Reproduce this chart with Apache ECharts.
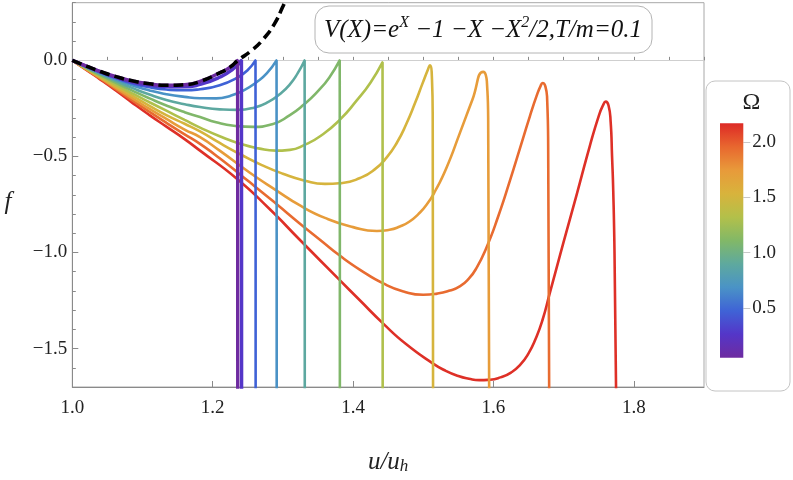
<!DOCTYPE html>
<html><head><meta charset="utf-8">
<script src="https://cdn.jsdelivr.net/npm/echarts@6/dist/echarts.min.js"></script>
<style>html,body{margin:0;padding:0;background:#fff}#c{width:793px;height:480px}</style>
</head><body><div id="c"></div>
<script>
// ---- data ----
const omegas = [0.05, 0.26, 0.47, 0.68, 0.89, 1.10, 1.31, 1.52, 1.73, 1.94, 2.15];
const omegaRange = [0.05, 2.17];
const omegaTicks = [0.5, 1.0, 1.5, 2.0];
const omegaMinorTicks = [0.1,0.2,0.3,0.4,0.5,0.6,0.7,0.8,0.9,1.0,1.1,1.2,1.3,1.4,1.5,1.6,1.7,1.8,1.9,2.0,2.1];
const xTicks = [1.0, 1.2, 1.4, 1.6, 1.8];
const yTicks = [-1.5, -1.0, -0.5, 0.0];

const curve0 = [[1,0],[1.02,-0.03],[1.04,-0.058],[1.06,-0.082],[1.087,-0.108],[1.11,-0.122],[1.134,-0.13],[1.16,-0.127],[1.182,-0.11],[1.21,-0.065],[1.225,-0.035],[1.2355,0.0],[1.2357,-1.8]];
const curve1 = [[1,0],[1.02,-0.031],[1.04,-0.06],[1.06,-0.086],[1.087,-0.114],[1.11,-0.129],[1.134,-0.137],[1.16,-0.138],[1.182,-0.125],[1.21,-0.088],[1.228,-0.048],[1.241,0.0],[1.2412,-1.8]];
const curve2 = [[1,0],[1.02,-0.032],[1.04,-0.062],[1.06,-0.09],[1.087,-0.122],[1.11,-0.14],[1.134,-0.152],[1.16,-0.156],[1.182,-0.15],[1.21,-0.13],[1.235,-0.09],[1.25,-0.05],[1.261,0.0],[1.2612,-1.8]];
const curve3 = [[1,0],[1.02,-0.034],[1.04,-0.066],[1.06,-0.096],[1.087,-0.132],[1.11,-0.157],[1.134,-0.176],[1.16,-0.19],[1.182,-0.197],[1.205,-0.198],[1.225,-0.185],[1.245,-0.155],[1.262,-0.115],[1.277,-0.068],[1.291,0.0],[1.2912,-1.8]];
const curve4 = [[1,0],[1.02,-0.036],[1.04,-0.071],[1.06,-0.104],[1.087,-0.146],[1.11,-0.178],[1.134,-0.206],[1.16,-0.228],[1.182,-0.243],[1.21,-0.255],[1.235,-0.258],[1.26,-0.245],[1.28,-0.215],[1.296,-0.175],[1.31,-0.125],[1.321,-0.068],[1.331,0.0],[1.3312,-1.8]];
const curve5 = [[1,0],[1.02,-0.039],[1.04,-0.077],[1.06,-0.113],[1.087,-0.16],[1.11,-0.198],[1.134,-0.235],[1.16,-0.27],[1.182,-0.295],[1.205,-0.322],[1.23,-0.34],[1.258,-0.346],[1.285,-0.332],[1.31,-0.285],[1.33,-0.23],[1.35,-0.16],[1.366,-0.09],[1.381,0.0],[1.3812,-1.8]];
const curve6 = [[1,0],[1.02,-0.042],[1.04,-0.083],[1.06,-0.123],[1.087,-0.175],[1.11,-0.218],[1.134,-0.262],[1.16,-0.31],[1.182,-0.35],[1.21,-0.395],[1.24,-0.435],[1.265,-0.458],[1.29,-0.47],[1.31,-0.466],[1.331,-0.44],[1.355,-0.39],[1.381,-0.31],[1.405,-0.21],[1.425,-0.115],[1.442,-0.01],[1.4422,-1.8]];
const curve7 = [[1,0],[1.02,-0.044],[1.04,-0.088],[1.06,-0.131],[1.087,-0.188],[1.11,-0.237],[1.134,-0.285],[1.16,-0.33],[1.182,-0.37],[1.21,-0.43],[1.24,-0.49],[1.27,-0.545],[1.3,-0.59],[1.33,-0.625],[1.36,-0.643],[1.385,-0.638],[1.41,-0.612],[1.43,-0.57],[1.448,-0.505],[1.463,-0.425],[1.476,-0.33],[1.488,-0.225],[1.499,-0.12],[1.507,-0.045],[1.5095,-0.026],[1.512,-0.06],[1.5135,-0.3],[1.514,-1.8]];
const curve8 = [[1,0],[1.02,-0.046],[1.04,-0.092],[1.06,-0.138],[1.087,-0.2],[1.11,-0.253],[1.134,-0.305],[1.16,-0.36],[1.182,-0.4],[1.21,-0.47],[1.253,-0.585],[1.29,-0.675],[1.3244,-0.755],[1.36,-0.82],[1.4,-0.868],[1.434,-0.888],[1.452,-0.882],[1.4667,-0.865],[1.48,-0.84],[1.493,-0.8],[1.505,-0.75],[1.517,-0.68],[1.533,-0.56],[1.552,-0.38],[1.57,-0.205],[1.5855,-0.06],[1.589,-0.075],[1.5908,-0.12],[1.5925,-0.3],[1.594,-1.8]];
const curve9 = [[1,0],[1.02,-0.048],[1.04,-0.096],[1.06,-0.145],[1.087,-0.212],[1.11,-0.268],[1.134,-0.325],[1.16,-0.385],[1.182,-0.435],[1.21,-0.51],[1.253,-0.635],[1.29,-0.745],[1.3244,-0.85],[1.355,-0.94],[1.381,-1.016],[1.41,-1.09],[1.443,-1.161],[1.472,-1.203],[1.5,-1.22],[1.52,-1.214],[1.538,-1.198],[1.552,-1.176],[1.564,-1.14],[1.576,-1.08],[1.59,-0.975],[1.607,-0.81],[1.6235,-0.626],[1.638,-0.455],[1.652,-0.29],[1.662,-0.18],[1.667,-0.135],[1.67,-0.118],[1.674,-0.135],[1.6765,-0.2],[1.678,-0.45],[1.6795,-1.8]];
const curve10 = [[1,0],[1.02,-0.05],[1.04,-0.1],[1.06,-0.152],[1.087,-0.225],[1.11,-0.285],[1.134,-0.345],[1.16,-0.41],[1.182,-0.47],[1.234,-0.615],[1.28,-0.77],[1.3244,-0.935],[1.38,-1.14],[1.41,-1.25],[1.443,-1.37],[1.475,-1.475],[1.514,-1.578],[1.532,-1.616],[1.55,-1.643],[1.565,-1.657],[1.58,-1.664],[1.595,-1.662],[1.61,-1.65],[1.625,-1.625],[1.638,-1.585],[1.65,-1.525],[1.66,-1.45],[1.67,-1.35],[1.68,-1.215],[1.69,-1.08],[1.7,-0.945],[1.7185,-0.7],[1.737,-0.45],[1.75,-0.29],[1.756,-0.235],[1.76,-0.215],[1.764,-0.235],[1.767,-0.32],[1.769,-0.5],[1.7707,-0.68],[1.7725,-1.0],[1.775,-1.8]];
const dashedLimit = [[1,0],[1.02,-0.03],[1.04,-0.058],[1.06,-0.082],[1.087,-0.108],[1.11,-0.122],[1.134,-0.13],[1.16,-0.127],[1.182,-0.11],[1.21,-0.065],[1.225,-0.035],[1.236,0.0],[1.255,0.05],[1.272,0.11],[1.288,0.19],[1.3,0.28],[1.31,0.36]];
const curves = [curve0, curve1, curve2, curve3, curve4, curve5, curve6, curve7, curve8, curve9, curve10];

// ---- styling ----
const rainbow = ['#6E2BA0','#5436C8','#3F63D6','#4A93C6','#5EA99E','#82B867','#B3C04A','#D8B33C','#E89A3A','#E8672F','#DD2A26'];
function hex(c){return [parseInt(c.slice(1,3),16),parseInt(c.slice(3,5),16),parseInt(c.slice(5,7),16)];}
function colorAt(t){
  t = Math.max(0, Math.min(1, t));
  const p = t * (rainbow.length - 1), i = Math.min(rainbow.length - 2, Math.floor(p)), f = p - i;
  const a = hex(rainbow[i]), b = hex(rainbow[i+1]);
  return 'rgb(' + a.map((v,k)=>Math.round(v + (b[k]-v)*f)).join(',') + ')';
}
const SERIF = 'Liberation Serif';
const axisGrey = '#8a8a8a';
const minus = v => (v < -1e-9 ? '\u2212' : '') + Math.abs(v).toFixed(1);
const tickText = { fontFamily: SERIF, fontSize: 19, color: '#222' };

const series = [];
for (let i = curves.length - 1; i >= 0; i--) {
  const t = (omegas[i] - omegaRange[0]) / (omegaRange[1] - omegaRange[0]);
  const s = {
    type: 'line', xAxisIndex: 0, yAxisIndex: 0, data: curves[i],
    showSymbol: false, smooth: 0.55, silent: true, z: 3,
    lineStyle: { width: i <= 1 ? 3.4 : 2.6, color: colorAt(t) }
  };
  if (i === curves.length - 1) {
    s.markLine = { silent: true, symbol: 'none', label: { show: false },
      lineStyle: { color: '#cfcfcf', width: 1, type: 'solid' }, data: [{ yAxis: 0 }], z: 1 };
  }
  series.push(s);
}
series.push({
  type: 'line', xAxisIndex: 0, yAxisIndex: 0, data: dashedLimit, showSymbol: false,
  smooth: 0.55, silent: true, z: 5,
  lineStyle: { width: 3.6, color: '#000', type: [10, 5] }
});
series.push({
  type: 'custom', xAxisIndex: 2, yAxisIndex: 2, silent: true,
  data: [[0, omegaRange[0], 1, omegaRange[1]]],
  renderItem: function (params, api) {
    const p0 = api.coord([api.value(0), api.value(1)]);
    const p1 = api.coord([api.value(2), api.value(3)]);
    return { type: 'rect',
      shape: { x: p0[0], y: p1[1], width: p1[0] - p0[0], height: p0[1] - p1[1] },
      style: { fill: new echarts.graphic.LinearGradient(0, 1, 0, 0,
        rainbow.map((c, k) => ({ offset: k / (rainbow.length - 1), color: c }))) } };
  }
});

const chart = echarts.init(document.getElementById('c'), null, { renderer: 'canvas' });
chart.setOption({
  animation: false,
  backgroundColor: '#fff',
  textStyle: { fontFamily: SERIF },
  grid: [
    { left: 72.3, right: 89, top: 2.7, bottom: 86.7, show: true, borderColor: '#a8a8a8', borderWidth: 1 },
    { left: 720, top: 123.3, width: 23.3, height: 234.4 }
  ],
  xAxis: [
    { type: 'value', gridIndex: 0, min: 1.0, max: 1.9, position: 'bottom',
      axisLine: { show: true, onZero: false, lineStyle: { color: axisGrey } },
      axisTick: { inside: true, length: 6, customValues: xTicks, lineStyle: { color: axisGrey } },
      axisLabel: Object.assign({ customValues: xTicks, margin: 12,
        formatter: v => '{t|' + v.toFixed(1) + '}', rich: { t: tickText } }, tickText),
      splitLine: { show: false },
      name: '{i|u/u}{s|h}', nameLocation: 'middle', nameGap: 58,
      nameTextStyle: { fontFamily: SERIF, rich: {
        i: { fontFamily: SERIF, fontStyle: 'italic', fontSize: 25, color: '#222', verticalAlign: 'bottom', lineHeight: 30 },
        s: { fontFamily: SERIF, fontStyle: 'italic', fontSize: 17, color: '#222', verticalAlign: 'bottom', lineHeight: 22 } } } },
    { type: 'value', gridIndex: 0, min: 1.0, max: 1.9, interval: 0.05, position: 'bottom',
      axisLine: { show: false }, axisLabel: { show: false }, splitLine: { show: false },
      axisTick: { inside: true, length: 3.5, lineStyle: { color: axisGrey } } },
    { type: 'value', gridIndex: 1, min: 0, max: 1, show: false }
  ],
  yAxis: [
    { type: 'value', gridIndex: 0, min: -1.7, max: 0.3, position: 'left',
      axisLine: { show: true, onZero: false, lineStyle: { color: axisGrey } },
      axisTick: { inside: true, length: 6, customValues: yTicks, lineStyle: { color: axisGrey } },
      axisLabel: Object.assign({ customValues: yTicks, margin: 5,
        formatter: v => '{t|' + minus(v) + '}', rich: { t: tickText } }, tickText),
      splitLine: { show: false } },
    { type: 'value', gridIndex: 0, min: -1.7, max: 0.3, interval: 0.1, position: 'left',
      axisLine: { show: false }, axisLabel: { show: false }, splitLine: { show: false },
      axisTick: { inside: true, length: 3.5, lineStyle: { color: axisGrey } } },
    { type: 'value', gridIndex: 1, min: omegaRange[0], max: omegaRange[1], position: 'right',
      axisLine: { show: false }, splitLine: { show: false },
      axisTick: { length: 4, customValues: omegaMinorTicks, lineStyle: { color: '#c8c8c8' } },
      axisLabel: { show: false } },
    { type: 'value', gridIndex: 1, min: omegaRange[0], max: omegaRange[1], position: 'right',
      axisLine: { show: false }, splitLine: { show: false },
      axisTick: { length: 7, customValues: omegaTicks, lineStyle: { color: '#c8c8c8' } },
      axisLabel: Object.assign({ customValues: omegaTicks, margin: 9,
        formatter: v => '{t|' + v.toFixed(1) + '}', rich: { t: tickText } }, tickText) }
  ],
  graphic: [
    { type: 'text', z: 10, x: 8, y: 202,
      style: { text: 'f', fontFamily: SERIF, fontStyle: 'italic', fontSize: 25, fill: '#222', align: 'center', verticalAlign: 'middle' } },
    { type: 'rect', z: 0, shape: { x: 706, y: 81, width: 84, height: 310, r: 9 },
      style: { fill: '#fff', stroke: '#c4c4c4', lineWidth: 1 } },
    { type: 'text', z: 10, x: 751.5, y: 103,
      style: { text: '\u03A9', fontFamily: SERIF, fontSize: 24, fill: '#222', align: 'center', verticalAlign: 'middle' } },
    { type: 'rect', z: 10, shape: { x: 315, y: 6, width: 337, height: 47, r: 14 },
      style: { fill: '#fff', stroke: '#b4b4b4', lineWidth: 1 } },
    { type: 'text', z: 11, x: 483, y: 30,
      style: { text: '{m|V(X)=e}{p|X}{m| \u22121 \u2212X \u2212X}{p|2}{m|/2,T/m=0.1}',
        align: 'center', verticalAlign: 'middle', fontFamily: SERIF, fontStyle: 'italic', fontSize: 25,
        rich: {
          m: { fontFamily: SERIF, fontStyle: 'italic', fontSize: 25, fill: '#111', lineHeight: 30, verticalAlign: 'middle' },
          p: { fontFamily: SERIF, fontStyle: 'italic', fontSize: 16, fill: '#111', lineHeight: 16, verticalAlign: 'top' }
        } } }
  ],
  series: series
});
</script></body></html>
